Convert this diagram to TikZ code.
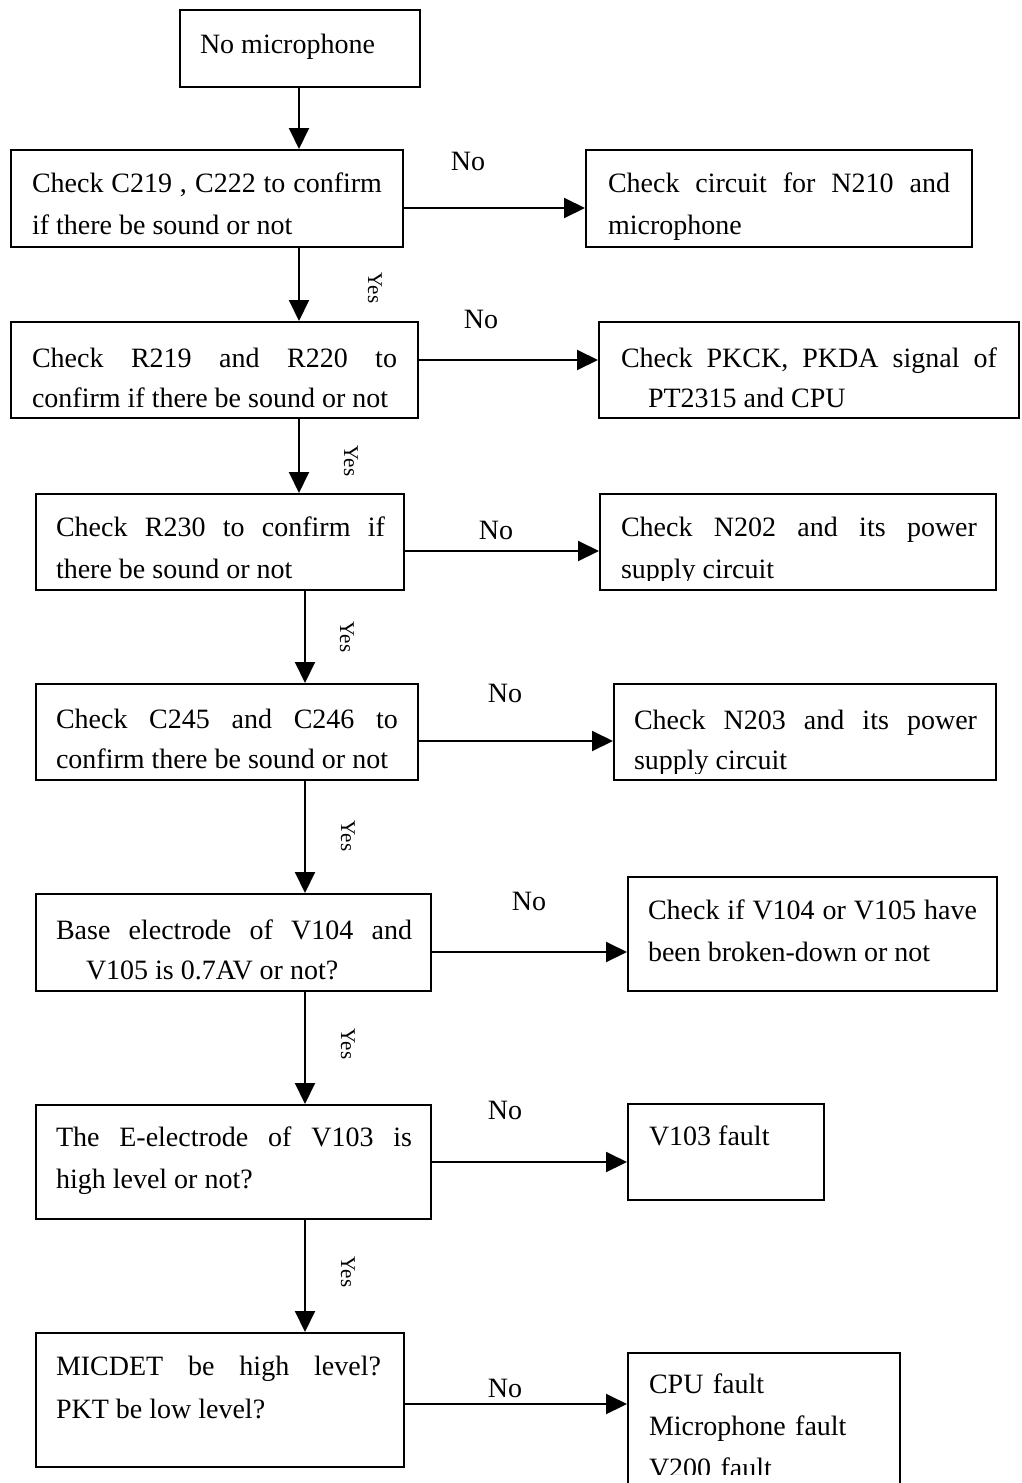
\documentclass[tikz,border=0pt]{standalone}
\usepackage{fontspec}
\setmainfont{Liberation Serif}
\usepackage{tikz}
\usetikzlibrary{arrows.meta,calc,positioning}

\begin{document}
\begin{tikzpicture}[x=1pt,y=-1pt,line width=2pt,
    >={Triangle[length=21pt,width=20pt]},
    box/.style={draw,anchor=north west,inner sep=0pt},
    txt/.style={anchor=base west,inner sep=0pt,align=justify,font=\fontsize{28}{42}\selectfont},
    txtb/.style={txt,font=\fontsize{28}{40}\selectfont},
    lab/.style={inner sep=0pt,font=\fontsize{28}{34}\selectfont},
    yes/.style={inner sep=0pt,rotate=-90,font=\fontsize{21}{25}\selectfont}]
    \clip (0,0) rectangle (1021,1483);
    \coordinate (up) at (299,0);
    \coordinate (lo) at (305,0);

    \node[box,minimum width=240pt,minimum height=77pt] (start) at (179,9) {};
    \node[txt] (startt) at ($(start.north west)+(20,44)$) {No microphone};

    \node[box,minimum width=392pt,minimum height=97pt] (c219) at (10,149) {};
    \node[txt,text width=350pt] (c219t) at ($(c219.north west)+(21,43)$) {Check C219 , C222 to confirm\linebreak if there be sound or not};
    \node[box,minimum width=386pt,minimum height=97pt] (n210) at (585,149) {};
    \begin{scope}
        \clip (n210.north west) rectangle ($(n210.south east)+(0,-9)$);
        \node[txt,text width=342pt] (n210t) at ($(n210.north west)+(22,43)$) {Check circuit for N210 and\linebreak microphone};
    \end{scope}

    \node[box,minimum width=407pt,minimum height=96pt] (r219) at (10,321) {};
    \node[txtb,text width=365pt] (r219t) at ($(r219.north west)+(21,46)$) {Check R219 and R220 to\linebreak confirm if there be sound or not};
    \node[box,minimum width=420pt,minimum height=96pt] (pkck) at (598,321) {};
    \node[txtb,text width=376pt] (pkckt) at ($(pkck.north west)+(22,46)$) {Check PKCK, PKDA signal of\linebreak \hspace*{27pt}PT2315 and CPU};

    \node[box,minimum width=368pt,minimum height=96pt] (r230) at (35,493) {};
    \node[txt,text width=329pt] (r230t) at ($(r230.north west)+(20,43)$) {Check R230 to confirm if\linebreak there be sound or not};
    \node[box,minimum width=396pt,minimum height=96pt] (n202) at (599,493) {};
    \begin{scope}
        \clip (n202.north west) rectangle ($(n202.south east)+(0,-11)$);
        \node[txt,text width=356pt] (n202t) at ($(n202.north west)+(21,43)$) {Check N202 and its power\linebreak supply circuit};
    \end{scope}

    \node[box,minimum width=382pt,minimum height=96pt] (c245) at (35,683) {};
    \node[txtb,text width=342pt] (c245t) at ($(c245.north west)+(20,45)$) {Check C245 and C246 to\linebreak confirm there be sound or not};
    \node[box,minimum width=382pt,minimum height=96pt] (n203) at (613,683) {};
    \begin{scope}
        \clip (n203.north west) rectangle ($(n203.south east)+(0,-8)$);
        \node[txtb,text width=343pt] (n203t) at ($(n203.north west)+(20,46)$) {Check N203 and its power\linebreak supply circuit};
    \end{scope}

    \node[box,minimum width=395pt,minimum height=97pt] (v104) at (35,893) {};
    \node[txtb,text width=356pt] (v104t) at ($(v104.north west)+(20,46)$) {Base electrode of V104 and\linebreak \hspace*{30pt}V105 is 0.7AV or not?};
    \node[box,minimum width=369pt,minimum height=114pt] (brk) at (627,876) {};
    \node[txt,text width=329pt] (brkt) at ($(brk.north west)+(20,43)$) {Check if V104 or V105 have\linebreak been broken-down or not};

    \node[box,minimum width=395pt,minimum height=114pt] (v103) at (35,1104) {};
    \node[txt,text width=356pt] (v103t) at ($(v103.north west)+(20,42)$) {The E-electrode of V103 is\linebreak high level or not?};
    \node[box,minimum width=196pt,minimum height=96pt] (v103f) at (627,1103) {};
    \node[txt] (v103ft) at ($(v103f.north west)+(21,42)$) {V103 fault};

    \node[box,minimum width=368pt,minimum height=134pt] (micdet) at (35,1332) {};
    \node[txt,text width=325pt,font=\fontsize{28}{43}\selectfont] (micdett) at ($(micdet.north west)+(20,43)$) {MICDET be high level?\linebreak PKT be low level?};
    \node[box,minimum width=272pt,minimum height=160pt] (fault) at (627,1352) {};
    \begin{scope}
        \clip (fault.north west) rectangle (fault.east |- 0,1474);
        \node[txt,text width=240pt,align=left] (faultt) at ($(fault.north west)+(21,41)$) {CPU fault\\Microphone fault\\V200 fault};
    \end{scope}

    \draw[->] (start.south -| up) -- (c219.north -| up);
    \draw[->] (c219.south -| up) -- (r219.north -| up);
    \draw[->] (r219.south -| up) -- (r230.north -| up);
    \draw[->] (r230.south -| lo) -- (c245.north -| lo);
    \draw[->] (c245.south -| lo) -- (v104.north -| lo);
    \draw[->] (v104.south -| lo) -- (v103.north -| lo);
    \draw[->] (v103.south -| lo) -- (micdet.north -| lo);

    \draw[->] (c219.east |- 0,208) -- (n210.west |- 0,208);
    \draw[->] (r219.east |- 0,360) -- (pkck.west |- 0,360);
    \draw[->] (r230.east |- 0,551) -- (n202.west |- 0,551);
    \draw[->] (c245.east |- 0,741) -- (n203.west |- 0,741);
    \draw[->] (v104.east |- 0,952) -- (brk.west |- 0,952);
    \draw[->] (v103.east |- 0,1162) -- (v103f.west |- 0,1162);
    \draw[->] (micdet.east |- 0,1404) -- (fault.west |- 0,1404);

    \node[lab] (no1) at (468,161) {No};
    \node[lab] (no2) at (481,319) {No};
    \node[lab] (no3) at (496,530) {No};
    \node[lab] (no4) at (505,693) {No};
    \node[lab] (no5) at (529,901) {No};
    \node[lab] (no6) at (505,1110) {No};
    \node[lab] (no7) at (505,1388) {No};

    \node[yes] (yes1) at (375,288) {Yes};
    \node[yes] (yes2) at (351,461) {Yes};
    \node[yes] (yes3) at (347,637) {Yes};
    \node[yes] (yes4) at (348,836) {Yes};
    \node[yes] (yes5) at (348,1044) {Yes};
    \node[yes] (yes6) at (348,1272) {Yes};
\end{tikzpicture}
\end{document}
